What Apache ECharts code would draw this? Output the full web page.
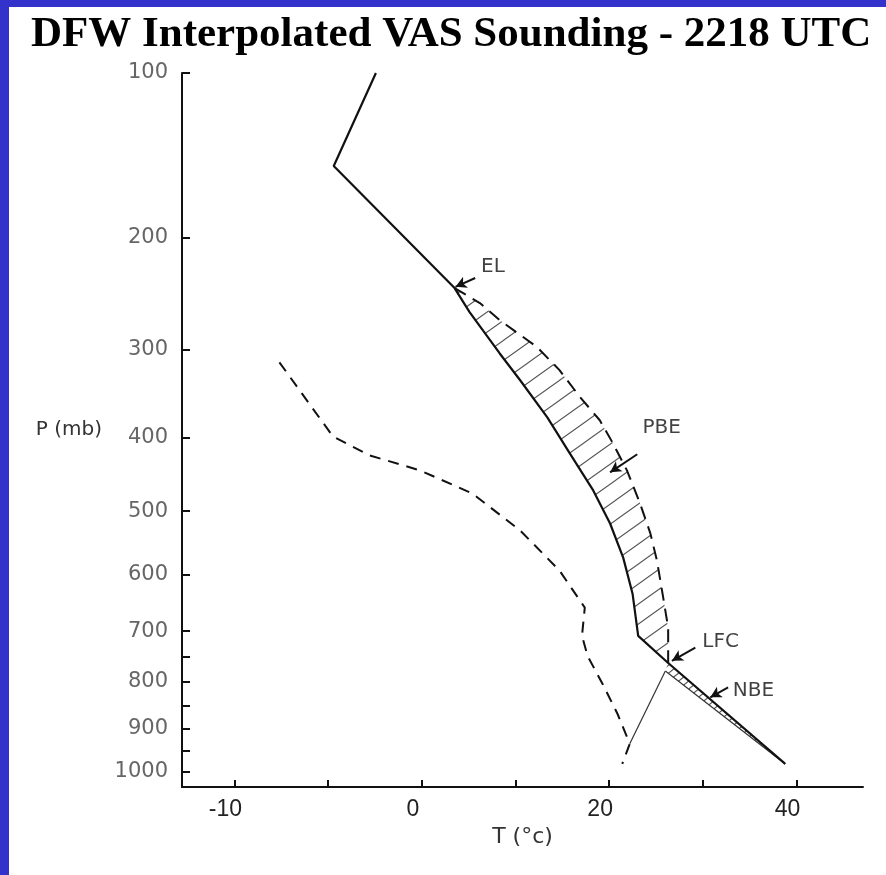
<!DOCTYPE html>
<html>
<head>
<meta charset="utf-8">
<title>DFW Interpolated VAS Sounding</title>
<script src="https://cdn.jsdelivr.net/npm/echarts@6/dist/echarts.min.js"></script>
<style>
  html, body { margin: 0; padding: 0; background: #fff; }
  #chart { width: 886px; height: 875px; }
</style>
</head>
<body>
<div id="chart"></div>
<script>
// environment temperature (solid), deg C vs mb
const envTemp = [-4.9, -9.4, 3.5, 5.1, 8.3, 10.5, 13.4, 15.8, 18.3, 20.1, 21.5, 22.5, 23.1, 26.3, 38.8];
const envPres = [100, 150.5, 241.6, 263.3, 303.6, 332.4, 375, 420, 470.2, 518.4, 571.8, 632.4, 709, 761.5, 981.7];

// lifted parcel above LFC (dashed right curve)
const parcelTemp = [3.5, 6.2, 8.3, 12.3, 14.7, 16.9, 19.0, 20.4, 21.9, 23.3, 24.4, 25.1, 25.7, 26.3, 26.3];
const parcelPres = [241.6, 255, 270.8, 297.3, 321.4, 351.4, 378.5, 407, 442.5, 488.8, 533.5, 576.4, 632.4, 693.5, 761.5];

// dew point (dashed left curve)
const dewTemp = [-15.2, -9.5, -5.6, -0.2, 5.4, 10.5, 14.7, 17.4, 17.1, 17.7, 19.3, 20.9, 22.2, 21.4];
const dewPres = [313.1, 398.2, 422.5, 442.5, 474.5, 529, 593, 657, 709, 747.6, 804.1, 867.8, 934.5, 981.7];

// thin lines: dry adiabat from surface, mixing ratio line to dew point
const adiabatTemp = [38.8, 26.0];
const adiabatPres = [981.7, 777.4];
const mixTemp = [26.0, 22.2];
const mixPres = [777.4, 934.5];

// axis ticks
const xTickAt = [-20, -10, 0, 10, 20, 30, 40];
const xLabelAt = [-20, 0, 20, 40];
const xLabelText = ['-10', '0', '20', '40'];
const yTickPres = [100, 200, 300, 400, 500, 600, 700, 750, 800, 850, 900, 950, 1000];
const yLabelPres = [100, 200, 300, 400, 500, 600, 700, 800, 900, 1000];

// annotations
const noteText = ['EL', 'PBE', 'LFC', 'NBE'];
const noteTemp = [7.6, 25.6, 31.9, 35.4];
const notePres = [223.6, 388.3, 719.9, 817.3];
const arrowFromTemp = [5.7, 23.0, 29.2, 32.7];
const arrowFromPres = [232.9, 421.1, 731.4, 811.0];
const arrowToTemp = [3.6, 20.1, 26.7, 30.8];
const arrowToPres = [240.5, 445.2, 757.1, 832.0];

const K = 0.286; // Stuve: height ~ p^K
const pk = p => Math.pow(p, K);
const pairs = (ts, ps) => ts.map((t, i) => [t, pk(ps[i])]);

function hatch(w, h, color) {
  const c = document.createElement('canvas');
  c.width = w; c.height = h;
  const g = c.getContext('2d');
  g.strokeStyle = color;
  g.lineWidth = 1.1;
  g.beginPath();
  g.moveTo(-w, h); g.lineTo(w, -h);
  g.moveTo(0, h); g.lineTo(w, 0);
  g.moveTo(0, 2 * h); g.lineTo(2 * w, 0);
  g.stroke();
  return { image: c, repeat: 'repeat' };
}

// PBE area: parcel from EL down to LFC, env back up
const pbeArea = pairs(parcelTemp, parcelPres).concat(
  pairs(envTemp, envPres).filter(d => d[1] >= pk(241.6) && d[1] <= pk(761.5)).reverse()
);
// NBE area: env from LFC to surface, adiabat back up
const nbeArea = pairs(envTemp, envPres).filter(d => d[1] >= pk(761.5))
  .concat(pairs(adiabatTemp, adiabatPres).slice(1));

function areaSeries(points, pattern) {
  return {
    type: 'custom',
    silent: true,
    data: [points[0]],
    renderItem: function (params, api) {
      return {
        type: 'polygon',
        shape: { points: points.map(d => api.coord(d)) },
        style: { fill: pattern, stroke: null }
      };
    },
    z: 1
  };
}

const chart = echarts.init(document.getElementById('chart'));
const option = {
  animation: false,
  backgroundColor: '#fff',
  graphic: [
    { type: 'rect', shape: { x: 0, y: 0, width: 9, height: 875 }, style: { fill: '#3333cc' }, z: 100 },
    { type: 'rect', shape: { x: 0, y: 0, width: 886, height: 7 }, style: { fill: '#3333cc' }, z: 100 }
  ],
  title: {
    text: 'DFW Interpolated VAS Sounding - 2218 UTC',
    left: 26,
    top: 8,
    textStyle: { fontFamily: 'Liberation Serif', fontWeight: 'bold', fontSize: 43, color: '#000' }
  },
  grid: { left: 182, right: 23, top: 73, bottom: 88 },
  xAxis: {
    type: 'value',
    min: -25.6,
    max: 47.1,
    name: 'T (°c)',
    nameLocation: 'middle',
    nameGap: 34,
    nameTextStyle: { fontFamily: 'DejaVu Sans', fontSize: 22, color: '#333' },
    axisLine: { onZero: false, lineStyle: { color: '#111', width: 2 } },
    axisTick: { customValues: xTickAt, inside: true, length: 7, lineStyle: { color: '#111', width: 2 } },
    axisLabel: {
      customValues: xLabelAt,
      formatter: v => xLabelText[xLabelAt.indexOf(v)],
      margin: 11,
      padding: [0, 18, 0, 0],
      fontFamily: 'Liberation Sans',
      fontSize: 23,
      color: '#222'
    },
    splitLine: { show: false }
  },
  yAxis: {
    type: 'value',
    inverse: true,
    min: pk(100),
    max: pk(1037.8),
    name: 'P (mb)',
    nameLocation: 'middle',
    nameRotate: 0,
    nameGap: 80,
    nameTextStyle: { fontFamily: 'DejaVu Sans', fontSize: 20, color: '#333' },
    axisLine: { show: true, onZero: false, lineStyle: { color: '#111', width: 2 } },
    axisTick: { show: true, customValues: yTickPres.map(pk), inside: true, length: 8, lineStyle: { color: '#111', width: 2 } },
    axisLabel: {
      customValues: yLabelPres.map(pk),
      formatter: v => String(Math.round(Math.pow(v, 1 / K) / 10) * 10),
      margin: 14,
      fontFamily: 'DejaVu Sans',
      fontSize: 21,
      color: '#666'
    },
    splitLine: { show: false }
  },
  series: [
    areaSeries(pbeArea, hatch(28, 20, '#555')),
    areaSeries(nbeArea, hatch(10, 8, '#555')),
    {
      name: 'Temperature',
      type: 'line',
      data: pairs(envTemp, envPres),
      showSymbol: false,
      lineStyle: { color: '#111', width: 2.2 },
      z: 3
    },
    {
      name: 'Parcel',
      type: 'line',
      data: pairs(parcelTemp, parcelPres),
      showSymbol: false,
      lineStyle: { color: '#111', width: 2, type: [13, 8] },
      z: 3
    },
    {
      name: 'Dew point',
      type: 'line',
      data: pairs(dewTemp, dewPres),
      showSymbol: false,
      lineStyle: { color: '#111', width: 2, type: [11, 8] },
      z: 3
    },
    {
      name: 'Dry adiabat',
      type: 'line',
      data: pairs(adiabatTemp, adiabatPres),
      showSymbol: false,
      lineStyle: { color: '#333', width: 1.2 },
      z: 2
    },
    {
      name: 'Mixing ratio',
      type: 'line',
      data: pairs(mixTemp, mixPres),
      showSymbol: false,
      lineStyle: { color: '#333', width: 1.2 },
      z: 2
    },
    {
      name: 'Notes',
      type: 'scatter',
      symbolSize: 0,
      silent: true,
      data: noteText.map((t, i) => ({ name: t, value: [noteTemp[i], pk(notePres[i])] })),
      label: {
        show: true,
        position: 'inside',
        formatter: '{b}',
        fontFamily: 'DejaVu Sans',
        fontSize: 20,
        color: '#111'
      },
      markLine: {
        silent: true,
        symbol: ['none', 'arrow'],
        symbolSize: [9, 11],
        label: { show: false },
        lineStyle: { color: '#111', width: 2, type: 'solid' },
        data: noteText.map((t, i) => [
          { coord: [arrowFromTemp[i], pk(arrowFromPres[i])] },
          { coord: [arrowToTemp[i], pk(arrowToPres[i])] }
        ])
      },
      z: 4
    }
  ]
};
chart.setOption(option);
</script>
</body>
</html>
